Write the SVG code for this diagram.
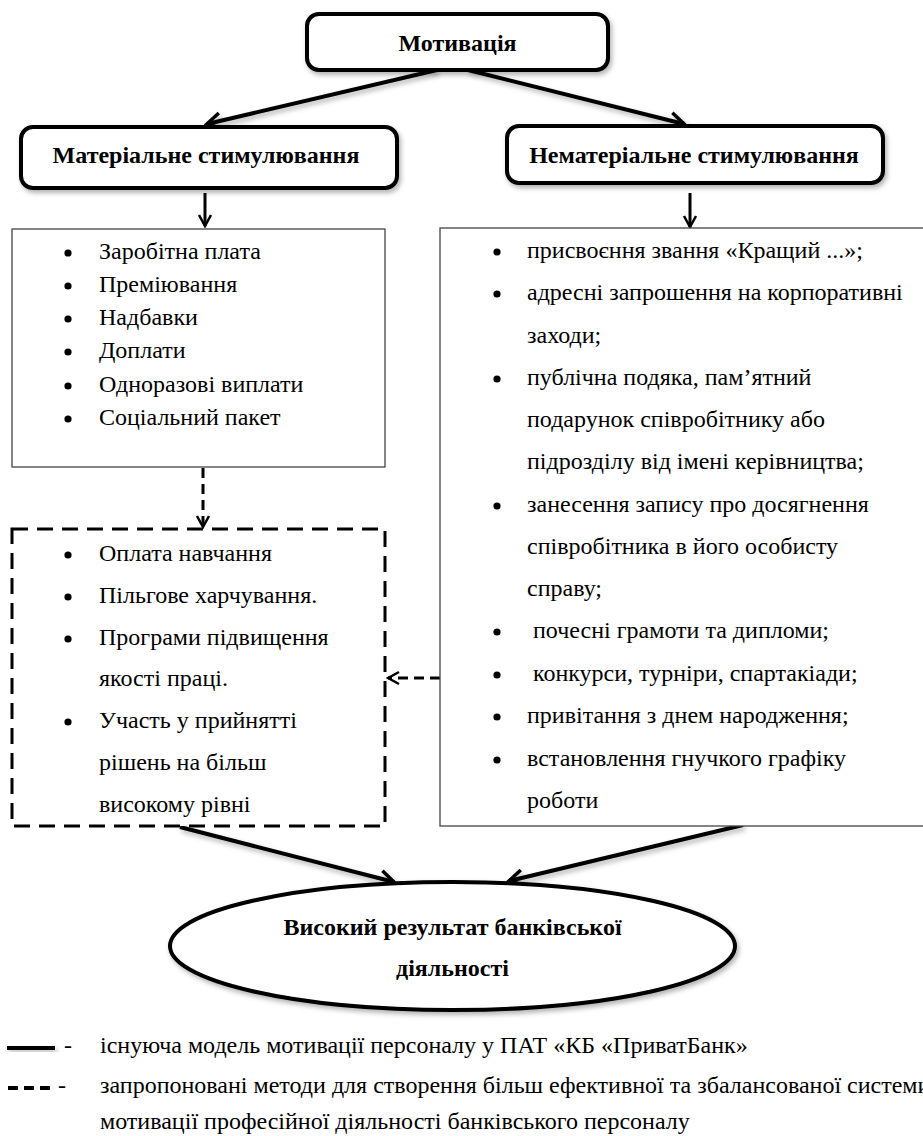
<svg xmlns="http://www.w3.org/2000/svg" width="923" height="1136" viewBox="0 0 923 1136">
<style>
  .t { font-family: "Liberation Serif", "Times New Roman", "DejaVu Serif", serif; font-size: 24px; fill: #000; }
  .b { font-family: "Liberation Serif", "Times New Roman", "DejaVu Serif", serif; font-size: 24px; font-weight: bold; fill: #000; }
  .rbox { fill: #fff; stroke: #000; stroke-width: 4; }
  .lbox { fill: #fff; stroke: #444; stroke-width: 1.3; }
  .dbox { fill: #fff; stroke: #000; stroke-width: 3; stroke-dasharray: 16 9; }
  .conn { fill: none; stroke: #000; stroke-width: 4; }
  .thin { fill: none; stroke: #000; stroke-width: 3; }
  .dash { fill: none; stroke: #000; stroke-width: 3; stroke-dasharray: 10 6; }
</style>
<defs>
  <filter id="sh" x="-10%" y="-10%" width="130%" height="140%">
    <feDropShadow dx="2" dy="3" stdDeviation="2.5" flood-color="#000" flood-opacity="0.3"/>
  </filter>
  <marker id="v" viewBox="0 0 20 20" refX="17" refY="10" markerWidth="20" markerHeight="20" markerUnits="userSpaceOnUse" orient="auto">
    <path d="M3,2 L17,10 L3,18" fill="none" stroke="#000" stroke-width="3.5"/>
  </marker>
  <marker id="vs" viewBox="0 0 16 16" refX="14" refY="8" markerWidth="16" markerHeight="16" markerUnits="userSpaceOnUse" orient="auto">
    <path d="M3,2 L14,8 L3,14" fill="none" stroke="#000" stroke-width="2.5"/>
  </marker>
</defs>

<g id="connectors">
  <line class="conn" x1="437" y1="70" x2="207" y2="124" marker-end="url(#v)" filter="url(#sh)"/>
  <line class="conn" x1="468" y1="70" x2="684" y2="124" marker-end="url(#v)" filter="url(#sh)"/>
  <line class="thin" x1="205" y1="193" x2="205" y2="226" marker-end="url(#vs)"/>
  <line class="thin" x1="690" y1="193" x2="690" y2="227" marker-end="url(#vs)"/>
  <line class="dash" x1="203" y1="468" x2="203" y2="527" marker-end="url(#vs)"/>
  <line class="dash" x1="440" y1="678" x2="388" y2="678" marker-end="url(#vs)"/>
  <line class="conn" x1="180" y1="827" x2="394" y2="882" marker-end="url(#v)" filter="url(#sh)"/>
  <line class="conn" x1="743" y1="825" x2="509" y2="881" marker-end="url(#v)" filter="url(#sh)"/>
</g>

<g id="motivation">
  <rect class="rbox" x="307" y="14" width="301" height="56" rx="12" filter="url(#sh)"/>
  <text class="b" x="457.5" y="51" text-anchor="middle">Мотивація</text>
</g>

<g id="material">
  <rect class="rbox" x="21" y="127" width="376" height="61" rx="12" filter="url(#sh)"/>
  <text class="b" x="206" y="163" text-anchor="middle">Матеріальне стимулювання</text>
</g>

<g id="nonmaterial">
  <rect class="rbox" x="507" y="126" width="376" height="57" rx="12" filter="url(#sh)"/>
  <text class="b" x="694" y="163" text-anchor="middle">Нематеріальне стимулювання</text>
</g>

<g id="material-list">
  <rect class="lbox" x="12" y="229" width="373" height="238"/>
  <circle cx="68" cy="253" r="3.6"/><text class="t" x="99" y="259">Заробітна плата</text>
  <circle cx="68" cy="286" r="3.6"/><text class="t" x="99" y="292">Преміювання</text>
  <circle cx="68" cy="319" r="3.6"/><text class="t" x="99" y="325">Надбавки</text>
  <circle cx="68" cy="352" r="3.6"/><text class="t" x="99" y="358">Доплати</text>
  <circle cx="68" cy="386" r="3.6"/><text class="t" x="99" y="392">Одноразові виплати</text>
  <circle cx="68" cy="419" r="3.6"/><text class="t" x="99" y="425">Соціальний пакет</text>
</g>

<g id="proposed-list">
  <rect class="dbox" x="12" y="529" width="373" height="297"/>
  <circle cx="68" cy="555" r="3.6"/><text class="t" x="99" y="561">Оплата навчання</text>
  <circle cx="68" cy="597" r="3.6"/><text class="t" x="99" y="603">Пільгове харчування.</text>
  <circle cx="68" cy="639" r="3.6"/><text class="t" x="99" y="645">Програми підвищення</text>
  <text class="t" x="99" y="686">якості праці.</text>
  <circle cx="68" cy="722" r="3.6"/><text class="t" x="99" y="728">Участь у прийнятті</text>
  <text class="t" x="99" y="770">рішень на більш</text>
  <text class="t" x="99" y="812">високому рівні</text>
</g>

<g id="nonmaterial-list">
  <rect class="lbox" x="440" y="228" width="500" height="598"/>
  <circle cx="497" cy="252" r="3.6"/><text class="t" x="527" y="258">присвоєння звання «Кращий ...»;</text>
  <circle cx="497" cy="294" r="3.6"/><text class="t" x="527" y="300">адресні запрошення на корпоративні</text>
  <text class="t" x="527" y="343">заходи;</text>
  <circle cx="497" cy="379" r="3.6"/><text class="t" x="527" y="385">публічна подяка, пам’ятний</text>
  <text class="t" x="527" y="427">подарунок співробітнику або</text>
  <text class="t" x="527" y="469">підрозділу від імені керівництва;</text>
  <circle cx="497" cy="506" r="3.6"/><text class="t" x="527" y="512">занесення запису про досягнення</text>
  <text class="t" x="527" y="554">співробітника в його особисту</text>
  <text class="t" x="527" y="596">справу;</text>
  <circle cx="497" cy="632" r="3.6"/><text class="t" x="533" y="638">почесні грамоти та дипломи;</text>
  <circle cx="497" cy="675" r="3.6"/><text class="t" x="533" y="681">конкурси, турніри, спартакіади;</text>
  <circle cx="497" cy="717" r="3.6"/><text class="t" x="527" y="723">привітання з днем народження;</text>
  <circle cx="497" cy="760" r="3.6"/><text class="t" x="527" y="766">встановлення гнучкого графіку</text>
  <text class="t" x="527" y="808">роботи</text>
</g>

<g id="result">
  <ellipse cx="452.5" cy="946" rx="282.5" ry="64" fill="#fff" stroke="#000" stroke-width="4" filter="url(#sh)"/>
  <text class="b" x="452.5" y="935" text-anchor="middle">Високий результат банківської</text>
  <text class="b" x="452.5" y="976" text-anchor="middle">діяльності</text>
</g>

<g id="legend">
  <rect x="7" y="1046" width="48" height="4" fill="#000" filter="url(#sh)"/>
  <text class="t" x="64" y="1053">-</text>
  <text class="t" x="100" y="1053">існуюча модель мотивації персоналу у ПАТ «КБ «ПриватБанк»</text>
  <line x1="8" y1="1088" x2="50" y2="1088" stroke="#000" stroke-width="4" stroke-dasharray="10 6"/>
  <text class="t" x="58" y="1093">-</text>
  <text class="t" x="100" y="1093">запропоновані методи для створення більш ефективної та збалансованої системи</text>
  <text class="t" x="100" y="1129">мотивації професійної діяльності банківського персоналу</text>
</g>
</svg>
